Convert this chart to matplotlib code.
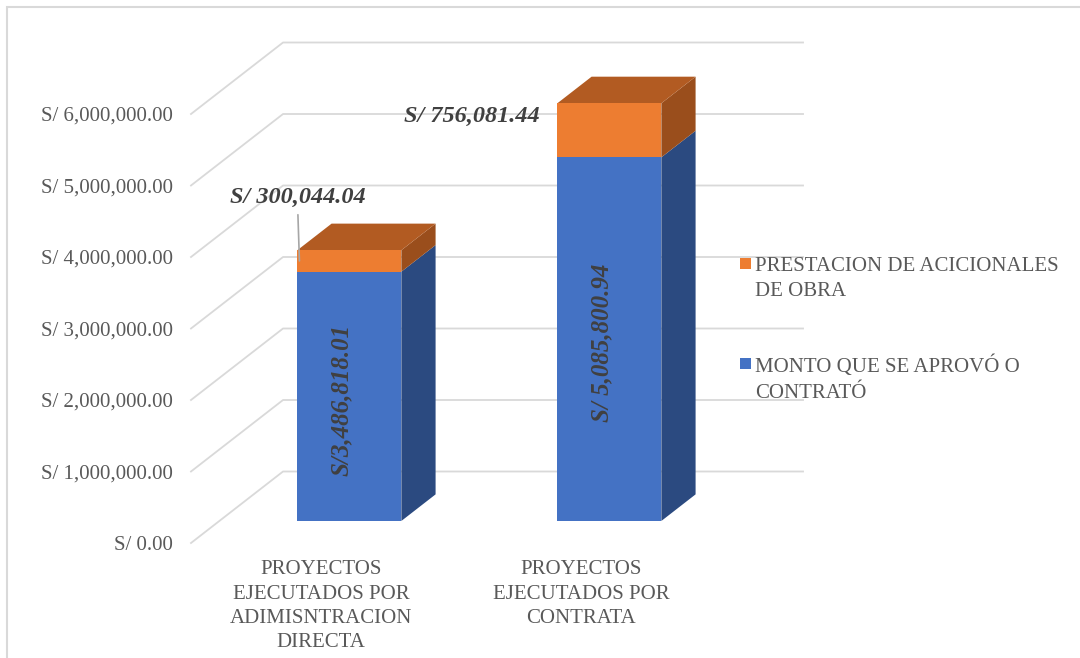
import matplotlib.pyplot as plt
from matplotlib.patches import Polygon, Rectangle

plt.rcParams['font.family'] = ['Liberation Serif', 'DejaVu Serif']

categories = ['PROYECTOS\nEJECUTADOS POR\nADIMISNTRACION\nDIRECTA',
              'PROYECTOS\nEJECUTADOS POR\nCONTRATA']
monto = [3486818.01, 5085800.94]
adicionales = [300044.04, 756081.44]
monto_labels = ['S/3,486,818.01', 'S/ 5,085,800.94']
adicionales_labels = ['S/ 300,044.04', 'S/ 756,081.44']
series_names = ['PRESTACION DE ACICIONALES\nDE OBRA', 'MONTO QUE SE APROVÓ O\nCONTRATÓ']
yticks = [0, 1000000, 2000000, 3000000, 4000000, 5000000, 6000000]

blue, blue_side = '#4472C4', '#2B4A80'
orange, orange_top, orange_side = '#ED7D31', '#B25B22', '#9A4E1C'
grid_c = '#D9D9D9'
text_c = '#595959'
label_c = '#404040'

# fake 3d: depth d in [0, 1] shifts a point by d*DX in x and d*DY in y
DX = 0.354
DY = 1000000
d0, d1 = 0.308, 0.68
w = 0.4


def proj(x, y, d):
    return (x + d * DX, y + d * DY)


fig = plt.figure(figsize=(10.8, 6.58), dpi=100)
ax = fig.add_axes([191 / 1080, 115 / 658, 520 / 1080, 429 / 658])
ax.set_xlim(-0.5, 1.5)
ax.set_ylim(0, 6000000)
for s in ax.spines.values():
    s.set_visible(False)

# walls / gridlines
for v in yticks:
    ax.plot([-0.5, -0.5 + DX, 1.5 + DX], [v, v + DY, v + DY], color=grid_c,
            lw=1.3, clip_on=False, zorder=0)

x = list(range(len(categories)))
xf = [i + d0 * DX for i in x]
bottoms = [m + d0 * DY for m in monto]
b1 = ax.bar(xf, monto, width=w, bottom=d0 * DY, color=blue, lw=0, zorder=3)
b2 = ax.bar(xf, adicionales, width=w, bottom=bottoms, color=orange, lw=0, zorder=3)
for p in list(b1) + list(b2):
    p.set_clip_on(False)

for i in x:
    xl, xr = i - w / 2, i + w / 2
    total = monto[i] + adicionales[i]
    for y0, y1, c in [(0, monto[i], blue_side), (monto[i], total, orange_side)]:
        ax.add_patch(Polygon([proj(xr, y0, d0), proj(xr, y0, d1), proj(xr, y1, d1),
                              proj(xr, y1, d0)], closed=True, fc=c, lw=0,
                             zorder=2, clip_on=False))
    ax.add_patch(Polygon([proj(xl, total, d0), proj(xr, total, d0), proj(xr, total, d1),
                          proj(xl, total, d1)], closed=True, fc=orange_top, lw=0,
                         zorder=2, clip_on=False))

    # value inside blue face
    ax.text(xf[i] - 0.03, d0 * DY + monto[i] / 2 - 0.05e6, monto_labels[i], rotation=90,
            ha='center', va='center', fontsize=18, fontweight='bold',
            fontstyle='italic', color=label_c, zorder=4)

# labels of the orange part
left0 = xf[0] - w / 2
mid0 = bottoms[0] + adicionales[0] / 2
ax.annotate(adicionales_labels[0], xy=(left0 + 0.008, mid0),
            xytext=(left0, bottoms[0] + adicionales[0] + 0.74e6),
            ha='center', va='center', fontsize=17.5, fontweight='bold',
            fontstyle='italic', color=label_c, annotation_clip=False, zorder=4,
            arrowprops=dict(arrowstyle='-', color='#A6A6A6', lw=1.2,
                            shrinkA=3, shrinkB=0))
left1 = xf[1] - w / 2
mid1 = bottoms[1] + adicionales[1] / 2
ax.text(left1 - 0.328, mid1 + 0.2e6, adicionales_labels[1], ha='center', va='center',
        fontsize=17.5, fontweight='bold', fontstyle='italic', color=label_c, zorder=4)

ax.set_yticks(yticks)
ax.set_yticklabels(['S/ {:,.2f}'.format(v) for v in yticks])
ax.set_xticks(x)
ax.set_xticklabels(categories, linespacing=1.38)
ax.tick_params(axis='y', length=0, pad=13, labelsize=15, labelcolor=text_c)
ax.tick_params(axis='x', length=0, pad=12.5, labelsize=15, labelcolor=text_c)

# legend
for j, (name, c) in enumerate(zip(series_names, [orange, blue])):
    yc = 264 + j * 99
    fig.patches.append(Rectangle((740 / 1080, 1 - (yc + 5.5) / 658), 11 / 1080, 11 / 658,
                                 transform=fig.transFigure, fc=c, lw=0))
    fig.text(755 / 1080, 1 - (yc - 7.3) / 658, name, ha='left', va='top',
             fontsize=15, color=text_c, linespacing=1.45)

# chart border
fig.patches.append(Rectangle((7 / 1080, -0.1), 1.2, 1.1 - 7 / 658,
                             transform=fig.transFigure, fill=False,
                             ec=grid_c, lw=1.5))

plt.savefig('out.png', dpi=100)
